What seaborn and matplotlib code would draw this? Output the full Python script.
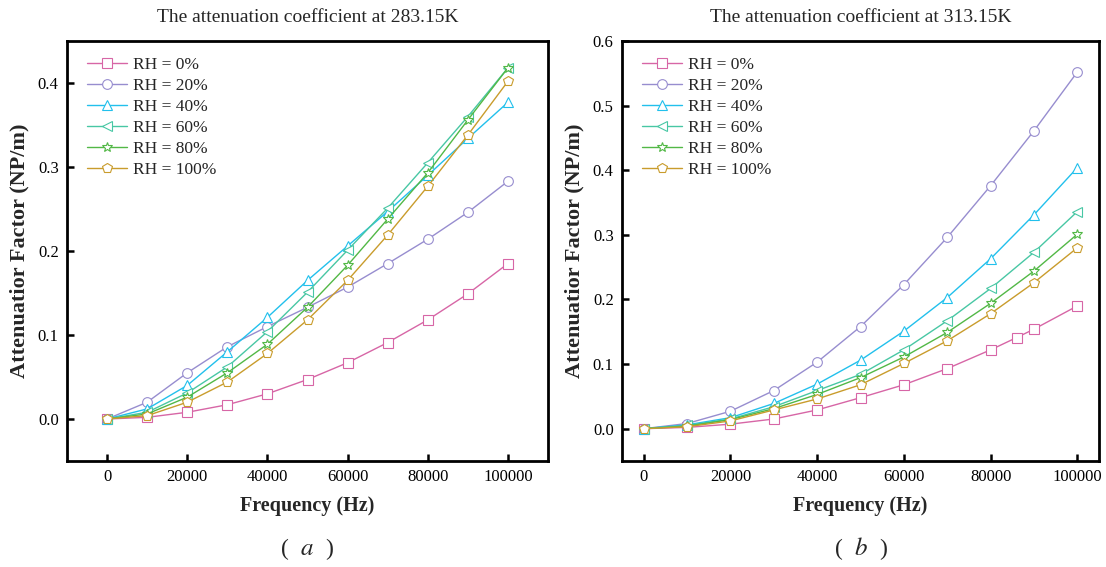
import numpy as np
import pandas as pd
import matplotlib
matplotlib.use("Agg")
import matplotlib.pyplot as plt
import seaborn as sns

# ---- data -------------------------------------------------------------
freq = [0, 10000, 20000, 30000, 40000, 50000, 60000, 70000, 80000, 90000, 100000]
freq_b_rh0 = [0, 10000, 20000, 30000, 40000, 50000, 60000, 70000, 80000, 86000, 90000, 100000]

rh_labels = ["RH = 0%", "RH = 20%", "RH = 40%", "RH = 60%", "RH = 80%", "RH = 100%"]

# 283.15 K
a_rh0 = [0.0, 0.002, 0.008, 0.017, 0.030, 0.047, 0.067, 0.091, 0.118, 0.149, 0.185]
a_rh20 = [0.0, 0.020, 0.055, 0.086, 0.110, 0.133, 0.157, 0.185, 0.214, 0.246, 0.283]
a_rh40 = [0.0, 0.012, 0.040, 0.080, 0.121, 0.165, 0.206, 0.247, 0.290, 0.334, 0.377]
a_rh60 = [0.0, 0.008, 0.031, 0.062, 0.104, 0.151, 0.201, 0.251, 0.305, 0.360, 0.418]
a_rh80 = [0.0, 0.006, 0.026, 0.055, 0.089, 0.133, 0.183, 0.238, 0.293, 0.356, 0.418]
a_rh100 = [0.0, 0.004, 0.020, 0.044, 0.078, 0.118, 0.165, 0.219, 0.277, 0.338, 0.402]

# 313.15 K
b_rh0 = [0.0, 0.002, 0.007, 0.015, 0.029, 0.048, 0.068, 0.093, 0.122, 0.141, 0.154, 0.190]
b_rh20 = [0.0, 0.008, 0.027, 0.059, 0.103, 0.158, 0.223, 0.296, 0.376, 0.461, 0.552]
b_rh40 = [0.0, 0.006, 0.017, 0.039, 0.069, 0.106, 0.151, 0.203, 0.263, 0.331, 0.404]
b_rh60 = [0.0, 0.005, 0.015, 0.034, 0.059, 0.084, 0.122, 0.167, 0.217, 0.273, 0.336]
b_rh80 = [0.0, 0.004, 0.014, 0.031, 0.053, 0.079, 0.111, 0.149, 0.194, 0.244, 0.301]
b_rh100 = [0.0, 0.003, 0.012, 0.029, 0.046, 0.068, 0.101, 0.136, 0.178, 0.226, 0.280]

titles = ["The attenuation coefficient at 283.15K", "The attenuation coefficient at 313.15K"]
panel_letters = ["a", "b"]

colors = ["#d766a6", "#978dcf", "#22c0ec", "#48c7a4", "#52b846", "#c99c2c"]
markers = ["s", "o", "^", "<", "*", "p"]


def long_frame(xs_list, ys_list):
    rows = []
    for lab, xs, ys in zip(rh_labels, xs_list, ys_list):
        for x, y in zip(xs, ys):
            rows.append({"Frequency": x, "Attenuation": y, "RH": lab})
    return pd.DataFrame(rows)


df_a = long_frame([freq] * 6, [a_rh0, a_rh20, a_rh40, a_rh60, a_rh80, a_rh100])
df_b = long_frame([freq_b_rh0] + [freq] * 5, [b_rh0, b_rh20, b_rh40, b_rh60, b_rh80, b_rh100])

# ---- style --------------------------------------------------------------
sns.set_theme(style="white")
plt.rcParams["font.family"] = ["Liberation Serif", "Noto Sans CJK SC"]
plt.rcParams["mathtext.fontset"] = "stix"

fig = plt.figure(figsize=(11.06, 5.67), dpi=100)
ax_a = fig.add_axes([67 / 1106, 106 / 567, 481 / 1106, 420 / 567])
ax_b = fig.add_axes([622 / 1106, 106 / 567, 477 / 1106, 420 / 567])

palette = dict(zip(rh_labels, colors))
marker_map = dict(zip(rh_labels, markers))

settings = [
    (ax_a, df_a, (-10000, 110000), (-0.05, 0.45), np.arange(0, 0.41, 0.1)),
    (ax_b, df_b, (-5000, 105000), (-0.05, 0.6), np.arange(0, 0.61, 0.1)),
]

for i, (ax, df, xlim, ylim, yticks) in enumerate(settings):
    sns.lineplot(
        data=df, x="Frequency", y="Attenuation", hue="RH", style="RH",
        hue_order=rh_labels, style_order=rh_labels, palette=palette,
        markers=marker_map, dashes=False, sort=False, legend=False,
        linewidth=1.0, markersize=7, mfc="white", mew=0.8, ax=ax,
    )
    for line, col in zip(ax.lines, colors):
        line.set_markeredgecolor(col)
        line.set_markerfacecolor("white")
    ax.legend(
        handles=ax.lines[:6], labels=rh_labels, loc="upper left",
        frameon=False, fontsize=12.5, handlelength=2.3, handletextpad=0.3,
        labelspacing=0.28, borderaxespad=0.5, bbox_to_anchor=(0.01, 1.0),
    )
    ax.set_xlim(*xlim)
    ax.set_ylim(*ylim)
    ax.set_xticks(freq[::2])
    ax.set_xticklabels([str(v) for v in freq[::2]])
    ax.set_yticks(yticks)
    ax.set_yticklabels([f"{v:.1f}" for v in yticks])
    ax.tick_params(axis="both", which="major", direction="in", length=5,
                   width=1.8, labelsize=12, colors="black", pad=6,
                   bottom=True, left=True, top=False, right=False)
    for sp in ax.spines.values():
        sp.set_linewidth(2.0)
        sp.set_color("black")
    ax.set_xlabel("Frequency (Hz)", fontsize=14.5, fontweight="bold", labelpad=8)
    ax.set_ylabel("Attenuatior Factor (NP/m)", fontsize=16, fontweight="bold", labelpad=6)
    ax.set_title(titles[i], fontsize=14, pad=14)
    ax.grid(False)

# panel captions: wide-spaced parentheses around an italic letter
cap_y = 1 - 549 / 567
for cx, letter in zip([307, 861], panel_letters):
    fig.text((cx - 22) / 1106, cap_y, "(", ha="center", va="center", fontsize=17)
    fig.text(cx / 1106, cap_y, f"${letter}$", ha="center", va="center", fontsize=18)
    fig.text((cx + 22) / 1106, cap_y, ")", ha="center", va="center", fontsize=17)

fig.savefig("out.png", dpi=100, facecolor="white")
